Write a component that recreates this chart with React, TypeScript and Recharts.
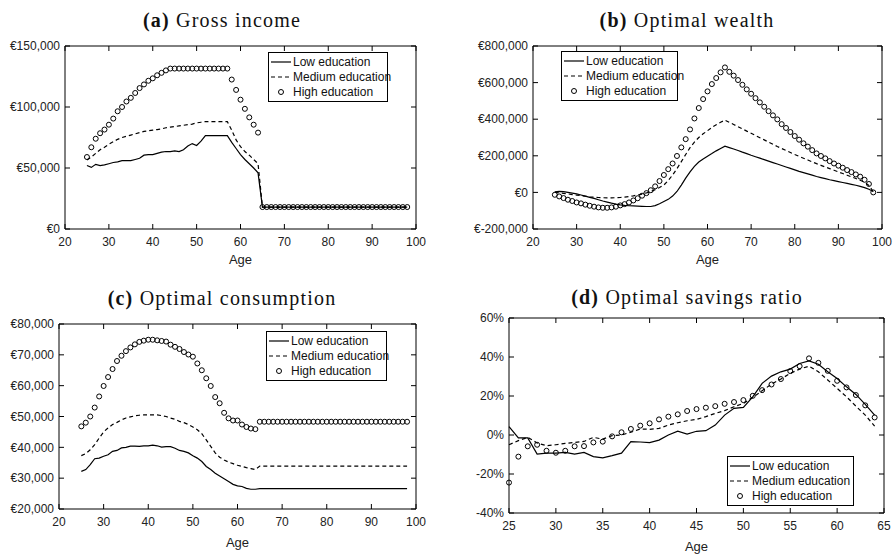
import { LineChart, Line, XAxis, YAxis, Legend } from 'recharts'

const AGES = [
  25, 26, 27, 28, 29, 30, 31, 32, 33, 34, 35, 36, 37, 38, 39, 40, 41, 42, 43, 44,
  45, 46, 47, 48, 49, 50, 51, 52, 53, 54, 55, 56, 57, 58, 59, 60, 61, 62, 63, 64,
  65, 66, 67, 68, 69, 70, 71, 72, 73, 74, 75, 76, 77, 78, 79, 80, 81, 82, 83, 84,
  85, 86, 87, 88, 89, 90, 91, 92, 93, 94, 95, 96, 97, 98,
]
const WORK_AGES = [
  25, 26, 27, 28, 29, 30, 31, 32, 33, 34, 35, 36, 37, 38, 39, 40, 41, 42, 43, 44,
  45, 46, 47, 48, 49, 50, 51, 52, 53, 54, 55, 56, 57, 58, 59, 60, 61, 62, 63, 64,
]

// (a) gross income
const incomeLow = [
  52000, 50500, 53000, 52000, 52500, 53500, 54500, 55000, 56000, 56000,
  56000, 57000, 58000, 60500, 61000, 61000, 62000, 63000, 63500, 63500,
  64000, 63500, 65000, 68000, 70000, 68500, 72000, 76500, 76500, 76500,
  76500, 76500, 76500, 71000, 66000, 61000, 57000, 53500, 50000, 46000,
  18000, 18000, 18000, 18000, 18000, 18000, 18000, 18000, 18000, 18000,
  18000, 18000, 18000, 18000, 18000, 18000, 18000, 18000, 18000, 18000,
  18000, 18000, 18000, 18000, 18000, 18000, 18000, 18000, 18000, 18000,
  18000, 18000, 18000, 18000,
]
const incomeMed = [
  56500, 59000, 62000, 65000, 67000, 69500, 71500, 73500, 75000, 76000,
  77000, 78000, 79000, 80000, 80500, 81000, 81500, 82000, 83000, 83500,
  84000, 84500, 85000, 85500, 86000, 87000, 87500, 88000, 88000, 88000,
  88000, 88000, 88000, 81000, 73000, 67500, 63500, 60500, 57000, 53500,
  18000, 18000, 18000, 18000, 18000, 18000, 18000, 18000, 18000, 18000,
  18000, 18000, 18000, 18000, 18000, 18000, 18000, 18000, 18000, 18000,
  18000, 18000, 18000, 18000, 18000, 18000, 18000, 18000, 18000, 18000,
  18000, 18000, 18000, 18000,
]
const incomeHigh = [
  59000, 67000, 74000, 78500, 81500, 85500, 90500, 96500, 100000, 104500,
  107500, 111500, 115500, 118500, 121500, 123500, 126000, 128000, 130000, 131500,
  131500, 131500, 131500, 131500, 131500, 131500, 131500, 131500, 131500, 131500,
  131500, 131500, 131500, 122500, 114000, 106000, 98500, 91500, 85500, 79000,
  18000, 18000, 18000, 18000, 18000, 18000, 18000, 18000, 18000, 18000,
  18000, 18000, 18000, 18000, 18000, 18000, 18000, 18000, 18000, 18000,
  18000, 18000, 18000, 18000, 18000, 18000, 18000, 18000, 18000, 18000,
  18000, 18000, 18000, 18000,
]

// (b) optimal wealth
const wealthLow = [
  3000, 6000, 4000, 0, -4000, -8000, -14000, -20000, -27000, -33000,
  -40000, -47000, -53000, -59000, -64000, -68000, -71000, -73000, -74000, -75000,
  -76000, -77000, -77000, -72000, -62000, -50000, -38000, -20000, 5000, 40000,
  78000, 112000, 142000, 166000, 183000, 198000, 212000, 227000, 240000, 253000,
  245000, 237000, 229000, 220000, 212000, 203000, 195000, 187000, 179000, 171000,
  163000, 155000, 147000, 139000, 131000, 123000, 115000, 108000, 101000, 94000,
  87000, 81000, 75000, 69000, 64000, 59000, 54000, 49000, 44000, 39000,
  33000, 26000, 17000, 5000,
]
const wealthMed = [
  0, -2000, -5000, -8000, -12000, -15000, -18000, -21000, -24000, -26000,
  -28000, -29000, -30000, -30000, -29000, -28000, -26000, -23000, -19000, -14000,
  -9000, -3000, 5000, 15000, 27000, 40000, 65000, 95000, 130000, 168000,
  207000, 245000, 275000, 300000, 320000, 337000, 355000, 370000, 383000, 395000,
  383000, 371000, 359000, 347000, 335000, 323000, 311000, 299000, 287000, 275000,
  263000, 251000, 240000, 229000, 218000, 207000, 197000, 187000, 177000, 167000,
  157000, 148000, 139000, 130000, 121000, 112000, 103000, 94000, 85000, 76000,
  66000, 55000, 38000, 4000,
]
const wealthHigh = [
  -13000, -22000, -31000, -40000, -47000, -55000, -60000, -67000, -73000, -78000,
  -82000, -84000, -84000, -82000, -78000, -71000, -64000, -55000, -44000, -32000,
  -18000, -4000, 12000, 33000, 62000, 95000, 127000, 158000, 199000, 246000,
  291000, 344000, 404000, 461000, 510000, 552000, 592000, 625000, 656000, 683000,
  659000, 638000, 614000, 588000, 563000, 539000, 515000, 492000, 468000, 444000,
  421000, 399000, 373000, 352000, 330000, 308000, 288000, 268000, 250000, 231000,
  213000, 199000, 186000, 171000, 158000, 146000, 135000, 122000, 111000, 98000,
  86000, 69000, 46000, 0,
]

// (c) optimal consumption
const consLow = [
  32200, 32800, 34400, 36300, 36500, 37100, 37600, 38700, 39000, 39800,
  40000, 40400, 40400, 40300, 40500, 40500, 40700, 40500, 40100, 40200,
  40200, 39700, 39000, 38700, 38200, 37300, 36500, 35400, 33800, 32800,
  31600, 30700, 29800, 28900, 28000, 27500, 27300, 26700, 26400, 26400,
  26600, 26600, 26600, 26600, 26600, 26600, 26600, 26600, 26600, 26600,
  26600, 26600, 26600, 26600, 26600, 26600, 26600, 26600, 26600, 26600,
  26600, 26600, 26600, 26600, 26600, 26600, 26600, 26600, 26600, 26600,
  26600, 26600, 26600, 26600,
]
const consMed = [
  37300, 38000, 39200, 40900, 43000, 45000, 46300, 47400, 48100, 48900,
  49500, 49900, 50200, 50400, 50500, 50500, 50500, 50500, 50300, 50000,
  49500, 49100, 48400, 48000, 47400, 46600, 45700, 44400, 42400, 40300,
  38200, 36800, 35900, 35200, 34700, 34200, 33800, 33400, 33100, 32800,
  33900, 33900, 33900, 33900, 33900, 33900, 33900, 33900, 33900, 33900,
  33900, 33900, 33900, 33900, 33900, 33900, 33900, 33900, 33900, 33900,
  33900, 33900, 33900, 33900, 33900, 33900, 33900, 33900, 33900, 33900,
  33900, 33900, 33900, 33900,
]
const consHigh = [
  46800, 48000, 50000, 52900, 56500, 59900, 62800, 65400, 68000, 69700,
  71200, 72400, 73400, 74200, 74600, 74900, 74900, 74700, 74500, 74300,
  73300, 72600, 71900, 70900, 70100, 69400, 67200, 65000, 62400, 59900,
  56300, 54300, 51200, 49400, 48700, 48700, 47400, 46600, 46100, 45900,
  48300, 48300, 48300, 48300, 48300, 48300, 48300, 48300, 48300, 48300,
  48300, 48300, 48300, 48300, 48300, 48300, 48300, 48300, 48300, 48300,
  48300, 48300, 48300, 48300, 48300, 48300, 48300, 48300, 48300, 48300,
  48300, 48300, 48300, 48300,
]

// (d) optimal savings ratio, in %
const saveLow = [
  4.3, -1.5, -1.5, -9.8, -9.3, -9.3, -8.9, -9.8, -8.9, -11.1,
  -11.7, -10.6, -9.3, -3.4, -3.6, -3.9, -2.6, 0, 2.0, 0.5,
  1.9, 2.2, 5.1, 10.2, 13.7, 14.2, 19.6, 26.5, 30.2, 32.4,
  33.8, 36.7, 38.0, 36.3, 32.4, 29.0, 24.7, 20.8, 15.7, 10.2,
]
const saveMed = [
  -5.0, -2.9, -1.2, -4.1, -5.5, -5.0, -4.3, -3.8, -3.3, -1.2,
  -2.1, -0.3, 0, 1.4, 3.1, 2.9, 3.4, 5.1, 6.3, 7.3,
  8.0, 9.4, 11.1, 12.5, 14.5, 16.2, 19.3, 22.7, 26.1, 28.7,
  31.6, 33.8, 35.3, 32.4, 28.2, 23.9, 19.6, 14.8, 10.2, 4.6,
]
const saveHigh = [
  -24.4, -11.1, -5.8, -5.0, -8.1, -9.1, -8.1, -5.8, -5.7, -3.8,
  -3.4, -0.7, 1.4, 3.1, 4.8, 6.0, 8.0, 9.4, 10.6, 12.3,
  13.3, 14.0, 14.8, 16.0, 16.9, 17.9, 20.1, 23.0, 25.9, 28.7,
  32.8, 35.3, 39.3, 37.0, 32.9, 27.8, 24.4, 20.5, 15.2, 9.0,
]

const SERIES = ['Low education', 'Medium education', 'High education']
const AGE_TICKS_FULL = [20, 30, 40, 50, 60, 70, 80, 90, 100]
const AGE_TICKS_WORK = [25, 30, 35, 40, 45, 50, 55, 60, 65]
const INCOME_TICKS = [0, 50000, 100000, 150000]
const WEALTH_TICKS = [-200000, 0, 200000, 400000, 600000, 800000]
const CONS_TICKS = [20000, 30000, 40000, 50000, 60000, 70000, 80000]
const SAVE_TICKS = [-40, -20, 0, 20, 40, 60]

const rows = (ages: number[], low: number[], med: number[], high: number[]) =>
  ages.map((age, i) => ({ age, low: low[i], med: med[i], high: high[i] }))

const euro = (v: number) => '€' + v.toLocaleString('en-US')
const pct = (v: number) => `${v}%`
const blank = () => ''

const SANS = '"Liberation Sans", Arial, sans-serif'
const tickStyle = { fontSize: 12, fill: '#222', fontFamily: SANS }

function LegendBox({ w }: { w: number }) {
  return (
    <div style={{ width: w, border: '1px solid #000', background: '#fff', fontFamily: SANS, fontSize: 12, color: '#111', padding: '1px 0 2px 2px', boxSizing: 'border-box', whiteSpace: 'nowrap' }}>
      {SERIES.map((name, i) => (
        <div key={name} style={{ display: 'flex', alignItems: 'center', height: 15 }}>
          <svg width={20} height={10} style={{ marginRight: 2, flex: 'none' }}>
            {i === 0 && <line x1={0} x2={20} y1={5} y2={5} stroke="#000" strokeWidth={1.2} />}
            {i === 1 && <line x1={0} x2={20} y1={5} y2={5} stroke="#000" strokeWidth={1.2} strokeDasharray="4 3" />}
            {i === 2 && <circle cx={10} cy={5} r={2.5} fill="none" stroke="#000" strokeWidth={1} />}
          </svg>
          <span>{name}</span>
        </div>
      ))}
    </div>
  )
}

type PanelProps = {
  tag: string
  title: string
  left: number
  top: number
  width: number
  height: number
  marginTop: number
  yWidth: number
  marginRight: number
  marginBottom: number
  titleX: number
  titleY: number
  ageOffset: number
  data: { age: number; low: number; med: number; high: number }[]
  xDomain: [number, number]
  xTicks: number[]
  yDomain: [number, number]
  yTicks: number[]
  yFmt: (v: number) => string
  legend: { x: number; y: number; w: number }
}

function Panel(p: PanelProps) {
  return (
    <div style={{ position: 'absolute', left: p.left, top: p.top, width: p.width, height: p.height }}>
      <div
        style={{
          position: 'absolute', left: p.titleX - 150, width: 300, top: p.titleY - 12, height: 24, lineHeight: '24px',
          textAlign: 'center', fontFamily: '"Liberation Serif", serif', fontSize: 20, letterSpacing: 1.2,
          color: '#111', whiteSpace: 'nowrap',
        }}
      >
        <b>({p.tag})</b> {p.title}
      </div>
      {/* top and right axes share the domains and close the box, with inward ticks */}
      <LineChart width={p.width} height={p.height} data={p.data} margin={{ top: p.marginTop - 1, right: p.marginRight - 1, bottom: p.marginBottom, left: 0 }}>
        <XAxis
          dataKey="age" type="number" domain={p.xDomain} ticks={p.xTicks} interval={0}
          height={40} tickSize={-5} tickMargin={13} stroke="#000" tick={tickStyle}
          label={{ value: 'Age', position: 'insideBottom', offset: p.ageOffset, style: { fontSize: 13, fill: '#222', fontFamily: SANS } }}
        />
        <XAxis
          xAxisId="top" dataKey="age" orientation="top" type="number" domain={p.xDomain} ticks={p.xTicks} interval={0}
          height={1} tickSize={-5} tickFormatter={blank} stroke="#000"
        />
        <YAxis
          type="number" domain={p.yDomain} ticks={p.yTicks} interval={0} width={p.yWidth}
          tickSize={-5} tickMargin={10} stroke="#000" tick={tickStyle} tickFormatter={p.yFmt}
        />
        <YAxis
          yAxisId="right" orientation="right" type="number" domain={p.yDomain} ticks={p.yTicks} interval={0}
          width={1} tickSize={-5} tickFormatter={blank} stroke="#000"
        />
        <Legend
          layout="vertical" align="center" verticalAlign="middle"
          wrapperStyle={{ left: p.legend.x, top: p.legend.y, width: p.legend.w }}
          content={() => <LegendBox w={p.legend.w} />}
        />
        <Line dataKey="low" name={SERIES[0]} stroke="#000" strokeWidth={1.2} dot={false} isAnimationActive={false} />
        <Line dataKey="med" name={SERIES[1]} stroke="#000" strokeWidth={1.2} strokeDasharray="4 3" dot={false} isAnimationActive={false} />
        <Line
          dataKey="high" name={SERIES[2]} xAxisId="top" yAxisId="right" stroke="none"
          dot={{ r: 2.5, stroke: '#000', strokeWidth: 1, fill: 'none' }} activeDot={false} isAnimationActive={false}
        />
      </LineChart>
    </div>
  )
}

export default function App() {
  return (
    <div style={{ position: 'relative', width: 895, height: 554, background: '#fff' }}>
      <style>{'body{margin:0;background:#fff}'}</style>
      <Panel
        tag="a" title="Gross income" left={0} top={0} width={440} height={275}
        marginTop={46} yWidth={65} marginRight={24} marginBottom={6} titleX={222} titleY={20} ageOffset={5}
        data={rows(AGES, incomeLow, incomeMed, incomeHigh)} xDomain={[20, 100]} xTicks={AGE_TICKS_FULL}
        yDomain={[0, 150000]} yTicks={INCOME_TICKS} yFmt={euro} legend={{ x: 268, y: 52, w: 120 }}
      />
      <Panel
        tag="b" title="Optimal wealth" left={445} top={0} width={450} height={275}
        marginTop={46} yWidth={88} marginRight={13} marginBottom={6} titleX={242} titleY={20} ageOffset={5}
        data={rows(AGES, wealthLow, wealthMed, wealthHigh)} xDomain={[20, 100]} xTicks={AGE_TICKS_FULL}
        yDomain={[-200000, 800000]} yTicks={WEALTH_TICKS} yFmt={euro} legend={{ x: 116, y: 51, w: 117 }}
      />
      <Panel
        tag="c" title="Optimal consumption" left={0} top={275} width={440} height={279}
        marginTop={49} yWidth={59} marginRight={24} marginBottom={5} titleX={222} titleY={23} ageOffset={2}
        data={rows(AGES, consLow, consMed, consHigh)} xDomain={[20, 100]} xTicks={AGE_TICKS_FULL}
        yDomain={[20000, 80000]} yTicks={CONS_TICKS} yFmt={euro} legend={{ x: 266, y: 56, w: 121 }}
      />
      <Panel
        tag="d" title="Optimal savings ratio" left={445} top={275} width={450} height={279}
        marginTop={43} yWidth={64} marginRight={11} marginBottom={1} titleX={242} titleY={22} ageOffset={2}
        data={rows(WORK_AGES, saveLow, saveMed, saveHigh)} xDomain={[25, 65]} xTicks={AGE_TICKS_WORK}
        yDomain={[-40, 60]} yTicks={SAVE_TICKS} yFmt={pct} legend={{ x: 282, y: 181, w: 127 }}
      />
    </div>
  )
}
